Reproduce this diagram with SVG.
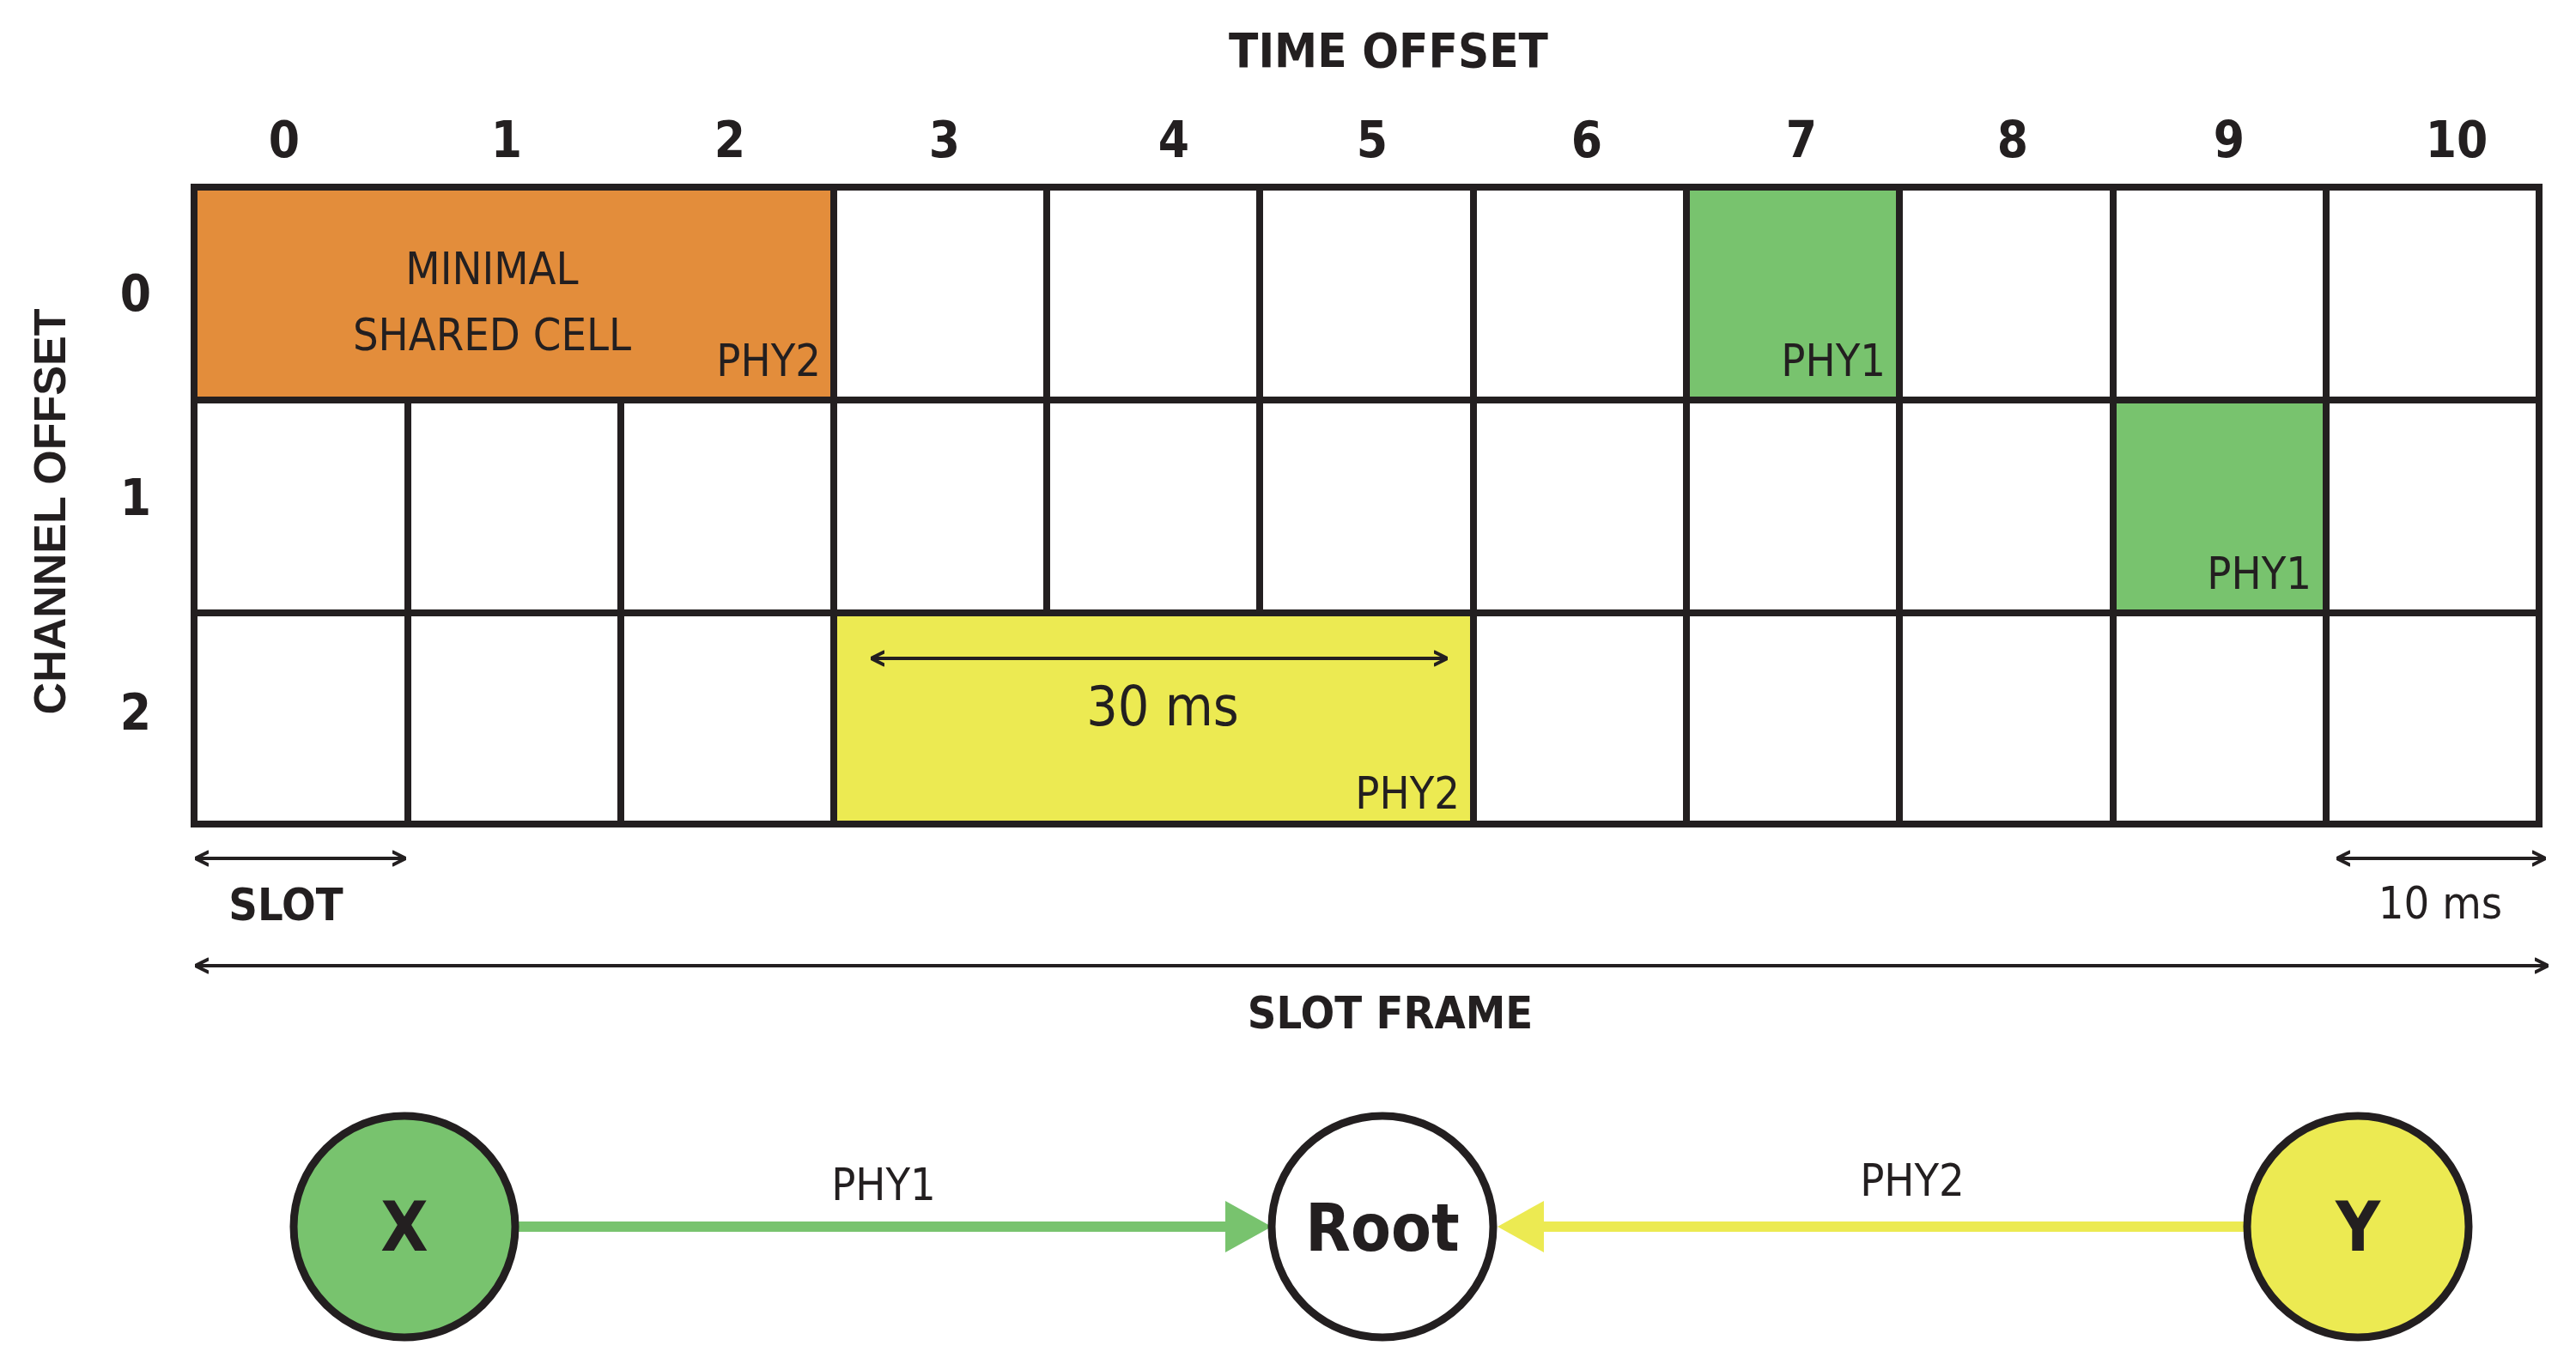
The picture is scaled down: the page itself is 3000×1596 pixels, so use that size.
<svg xmlns="http://www.w3.org/2000/svg" width="3000" height="1596" viewBox="0 0 3000 1596">
<style>
.g{fill:none;stroke:#231F20;stroke-width:8}
.b{font-family:"Liberation Sans Narrow","DejaVu Sans Condensed","Roboto Condensed",sans-serif;font-weight:bold;fill:#231F20}
.r{font-family:"Liberation Sans Narrow","DejaVu Sans Condensed","Roboto Condensed",sans-serif;fill:#231F20}
.a{stroke:#231F20;stroke-width:4;fill:none;marker-start:url(#m);marker-end:url(#m)}
</style>
<defs>
<marker id="m" viewBox="0 0 10 10" refX="9" refY="5" markerWidth="4" markerHeight="7" orient="auto-start-reverse" markerUnits="strokeWidth"><path d="M0,0 L10,5 L0,10" fill="none" stroke="#231F20" stroke-width="2.5"/></marker>
</defs>
<rect width="3000" height="1596" fill="#fff"/>
<g id="grid">
<rect x="226" y="218" width="745" height="248" fill="#E38D3B"/>
<rect x="1964" y="218" width="248" height="248" fill="#78C36E"/>
<rect x="2461" y="466" width="248" height="248" fill="#78C36E"/>
<rect x="971" y="714" width="745" height="246" fill="#ECEA52"/>
<path class="g" d="M226,218H2957V960H226Z M226,466H2957 M226,714H2957 M971,218V960 M1219,218V714 M1467,218V714 M1716,218V960 M1964,218V960 M2212,218V960 M2461,218V960 M2709,218V960 M475,466V960 M723,466V960"/>
</g>
<g id="labels">
<text class="b" x="1617" y="78" font-size="56" text-anchor="middle">TIME OFFSET</text>
<g class="b" font-size="58" text-anchor="middle">
<text x="331" y="183">0</text><text x="590" y="183">1</text><text x="850" y="183">2</text><text x="1100" y="183">3</text><text x="1367" y="183">4</text><text x="1598" y="183">5</text><text x="1848" y="183">6</text><text x="2098" y="183">7</text><text x="2344" y="183">8</text><text x="2596" y="183">9</text><text x="2861" y="183">10</text>
<text x="158" y="362">0</text><text x="158" y="600">1</text><text x="158" y="850">2</text>
</g>
<text class="b" x="0" y="0" font-size="52" text-anchor="middle" transform="translate(76,596) rotate(-90)" style="font-family:'Liberation Sans',sans-serif">CHANNEL OFFSET</text>
<g class="r" font-size="52">
<text x="573" y="331" text-anchor="middle">MINIMAL</text>
<text x="573" y="408" text-anchor="middle">SHARED CELL</text>
<text x="956" y="438" text-anchor="end">PHY2</text>
<text x="2196" y="438" text-anchor="end">PHY1</text>
<text x="2692" y="686" text-anchor="end">PHY1</text>
<text x="1700" y="942" text-anchor="end">PHY2</text>
<text x="1354" y="845" text-anchor="middle" font-size="64">30 ms</text>
<text x="2842" y="1070" text-anchor="middle">10 ms</text>
<text x="1029" y="1398" text-anchor="middle">PHY1</text>
<text x="2227" y="1393" text-anchor="middle">PHY2</text>
</g>
<g class="b" font-size="52" text-anchor="middle">
<text x="333" y="1072">SLOT</text>
<text x="1619" y="1198">SLOT FRAME</text>
</g>
</g>
<g id="dims">
<line class="a" x1="1016" y1="767" x2="1684" y2="767"/>
<line class="a" x1="229" y1="1000" x2="471" y2="1000"/>
<line class="a" x1="2723" y1="1000" x2="2963" y2="1000"/>
<line class="a" x1="229" y1="1125" x2="2966" y2="1125"/>
</g>
<g id="connectors">
<line x1="604" y1="1429" x2="1430" y2="1429" stroke="#78C36E" stroke-width="12"/>
<polygon points="1427,1399 1481,1429 1427,1459" fill="#78C36E"/>
<line x1="2615" y1="1429" x2="1795" y2="1429" stroke="#ECEA52" stroke-width="12"/>
<polygon points="1798,1399 1744,1429 1798,1459" fill="#ECEA52"/>
</g>
<g id="nodeX"><circle cx="471" cy="1429" r="129" fill="#78C36E" stroke="#231F20" stroke-width="9"/><text class="b" x="471" y="1457" font-size="80" text-anchor="middle">X</text></g>
<g id="nodeRoot"><circle cx="1610" cy="1429" r="129" fill="#fff" stroke="#231F20" stroke-width="9"/><text class="b" x="1610" y="1457" font-size="76" text-anchor="middle">Root</text></g>
<g id="nodeY"><circle cx="2746" cy="1429" r="129" fill="#ECEA52" stroke="#231F20" stroke-width="9"/><text class="b" x="2746" y="1457" font-size="80" text-anchor="middle">Y</text></g>
</svg>
